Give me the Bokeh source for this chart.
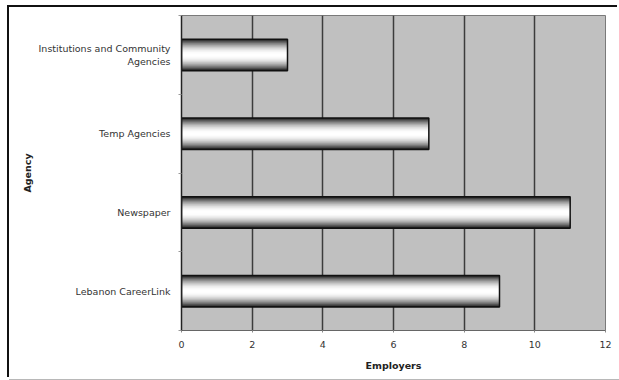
import math

from bokeh.embed import file_html
from bokeh.models import FixedTicker, Range1d
from bokeh.plotting import figure
from bokeh.resources import INLINE

# Agencies listed top to bottom, with the number of employers using each
agencies = [
    "Institutions and Community\nAgencies",
    "Temp Agencies",
    "Newspaper",
    "Lebanon CareerLink",
]
employers = [3, 7, 11, 9]
x_ticks = [0, 2, 4, 6, 8, 10, 12]

FONT = "DejaVu Sans"
TEXT = "#222222"

n = len(agencies)
# bottom-up slot centres: first agency sits in the top slot
ys = [n - i - 0.5 for i in range(n)]

p = figure(
    width=610, height=372,
    x_range=Range1d(0, 12), y_range=Range1d(0, n),
    output_backend="svg", toolbar_location=None,
    min_border_left=172, min_border_right=14,
    min_border_top=8, min_border_bottom=49,
    background_fill_color="#c0c0c0",
    border_fill_color="white",
)
# outer chart frame: shadows give a dark top/left edge and a light bottom edge
# without changing the size of the figure's box
p.styles = {
    "margin-left": "9px",
    "margin-top": "7px",
    "box-shadow": "-2px -2px 0 0 #111111, 0 1px 0 0 #b8b8b8",
}
p.outline_line_color = "#7a7a7a"
p.outline_line_width = 1

# vertical gridlines
p.xgrid.ticker = FixedTicker(ticks=x_ticks)
p.xgrid.grid_line_color = "#3c3c3c"
p.xgrid.grid_line_width = 1.5
p.ygrid.grid_line_color = None

# x axis
p.xaxis.ticker = FixedTicker(ticks=x_ticks)
p.xaxis.axis_label = "Employers"
p.xaxis.axis_label_text_font = FONT
p.xaxis.axis_label_text_font_style = "bold"
p.xaxis.axis_label_text_font_size = "9.5px"
p.xaxis.axis_label_text_color = TEXT
p.xaxis.axis_label_standoff = 9
p.xaxis.major_label_text_font = FONT
p.xaxis.major_label_text_font_size = "9.5px"
p.xaxis.major_label_text_color = "#333333"
p.xaxis.major_label_standoff = 8
p.xaxis.axis_line_color = "#666666"
p.xaxis.major_tick_line_color = "#888888"
p.xaxis.major_tick_out = 2
p.xaxis.major_tick_in = 0
p.xaxis.minor_tick_line_color = None

# y axis: labels at slot centres, ticks on slot boundaries
p.yaxis.ticker = FixedTicker(ticks=ys, minor_ticks=list(range(n + 1)))
p.yaxis.major_label_overrides = {y: a for y, a in zip(ys, agencies)}
p.yaxis.axis_label = "Agency"
p.yaxis.axis_label_text_font = FONT
p.yaxis.axis_label_text_font_style = "bold"
p.yaxis.axis_label_text_font_size = "9.5px"
p.yaxis.axis_label_text_color = TEXT
p.yaxis.axis_label_standoff = 3
p.yaxis.major_label_text_font = FONT
p.yaxis.major_label_text_font_size = "9.5px"
p.yaxis.major_label_text_color = "#333333"
p.yaxis.major_label_standoff = 5
p.yaxis.major_label_text_align = "right"
p.yaxis.major_tick_line_color = None
p.yaxis.minor_tick_line_color = "#999999"
p.yaxis.minor_tick_out = 3
p.yaxis.minor_tick_in = 0
p.yaxis.axis_line_color = "#222222"
p.yaxis.axis_line_width = 1.5

# cylinder-shaded bars: nested strips from a dark rim to a white core
bar_h = 0.4
layers = 18
for k in range(layers):
    t = k / (layers - 1)
    g = int(round(30 + 225 * math.sin(t * math.pi / 2) ** 0.9))
    color = "#%02x%02x%02x" % (g, g, g)
    p.hbar(y=ys, left=0, right=employers, height=bar_h * (1 - k / layers),
           fill_color=color, line_color=None)
p.hbar(y=ys, left=0, right=employers, height=bar_h,
       fill_color=None, line_color="#111111", line_width=1.5)

open("out.html", "w").write(file_html(p, INLINE))
